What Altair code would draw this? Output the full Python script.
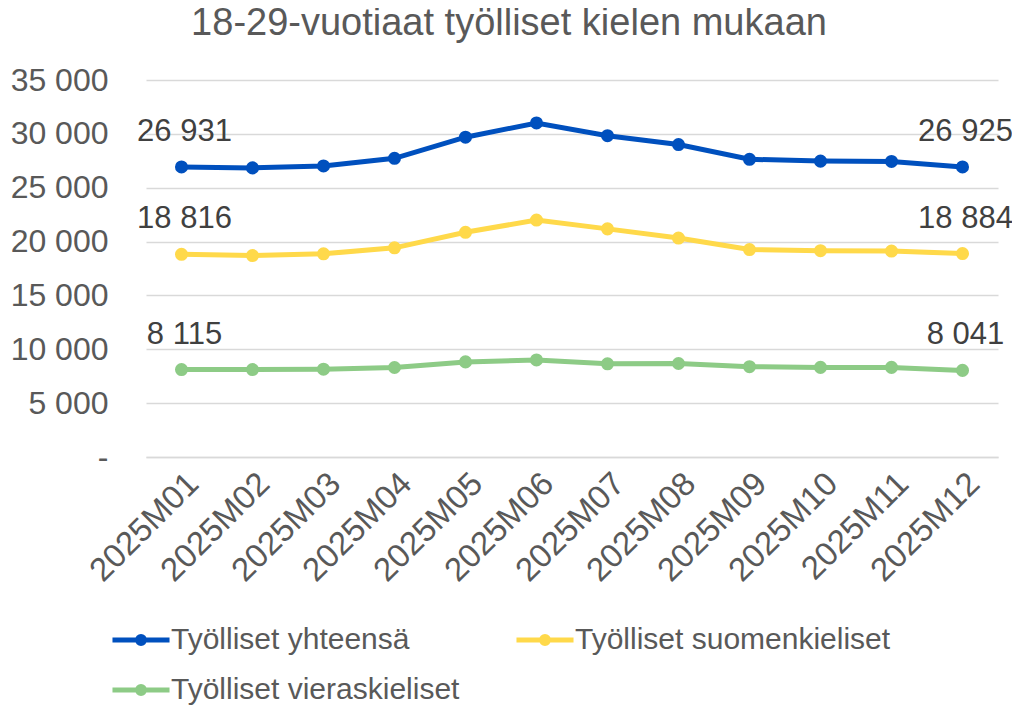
import altair as alt
import pandas as pd

months = ["2025M01", "2025M02", "2025M03", "2025M04", "2025M05", "2025M06",
          "2025M07", "2025M08", "2025M09", "2025M10", "2025M11", "2025M12"]
series_names = ["Työlliset yhteensä", "Työlliset suomenkieliset", "Työlliset vieraskieliset"]
total = [26931, 26840, 27020, 27730, 29690, 31010, 29830, 29010, 27640, 27470, 27440, 26925]
finnish = [18816, 18700, 18860, 19420, 20860, 22000, 21180, 20330, 19260, 19150, 19120, 18884]
foreign = [8115, 8120, 8150, 8310, 8830, 9010, 8650, 8680, 8380, 8320, 8320, 8041]
colors = ["#0050BE", "#FFD94A", "#8DCB86"]
y_ticks = [0, 5000, 10000, 15000, 20000, 25000, 30000, 35000]

rows = []
for name, vals in zip(series_names, [total, finnish, foreign]):
    for i, (m, v) in enumerate(zip(months, vals)):
        rows.append({"Kuukausi": m, "Sarja": name, "Arvo": v,
                     "end": i == 0 or i == len(months) - 1})
df = pd.DataFrame(rows)

FONT = "Liberation Sans"
legend_path = ("M-1.63,0H1.63 "
               "M-0.2,0a0.2,0.2 0 1,0 0.4,0a0.2,0.2 0 1,0 -0.4,0 "
               "M-0.08,0a0.08,0.08 0 1,0 0.16,0a0.08,0.08 0 1,0 -0.16,0")

x_enc = alt.X("Kuukausi:O", sort=months, title=None,
              axis=alt.Axis(labelAngle=-45, labelFontSize=33, labelFont=FONT,
                            labelColor="#595959", ticks=False, domain=True,
                            domainColor="#D9D9D9", domainWidth=1.5,
                            labelPadding=10, grid=False))
y_enc = alt.Y("Arvo:Q", title=None,
              scale=alt.Scale(domain=[0, 35000], nice=False),
              axis=alt.Axis(values=y_ticks, labelFontSize=32, labelFont=FONT,
                            labelColor="#595959", ticks=False, domain=False,
                            gridColor="#D9D9D9", gridWidth=1.5, labelPadding=38,
                            labelExpr="datum.value == 0 ? '-\u00a0\u00a0' : replace(format(datum.value, ',d'), ',', ' ')"))
color_enc = alt.Color("Sarja:N", sort=series_names,
                      scale=alt.Scale(domain=series_names, range=colors),
                      legend=alt.Legend(title=None, orient="none", legendX=-25, legendY=540,
                                        direction="horizontal",
                                        columns=2, symbolType=legend_path, symbolSize=1225,
                                        symbolStrokeWidth=5, labelFontSize=30, labelFont=FONT,
                                        labelColor="#595959", labelOffset=10,
                                        columnPadding=46, rowPadding=15, labelLimit=0))

base = alt.Chart(df)
lines = base.mark_line(strokeWidth=5, point=alt.OverlayMarkDef(filled=True, size=170)).encode(
    x=x_enc, y=y_enc, color=color_enc)
labels = base.transform_filter("datum.end").mark_text(
    fontSize=31, font=FONT, color="#404040", dy=-26, dx=3, baseline="alphabetic").encode(
    x=alt.X("Kuukausi:O", sort=months), y="Arvo:Q",
    text=alt.Text("label:N")).transform_calculate(
    label="replace(format(datum.Arvo, ',d'), ',', ' ')")

chart = alt.layer(lines, labels).properties(
    width=852, height=377,
    title=alt.TitleParams("18-29-vuotiaat työlliset kielen mukaan", fontSize=38, font=FONT,
                          fontWeight="normal", color="#595959", anchor="middle", dx=-63,
                          offset=21),
    autosize=alt.AutoSizeParams(type="none"),
    padding={"left": 138, "top": 72, "right": 14, "bottom": 252},
).configure_view(stroke=None)

chart.save("out.html", embed_options={"renderer": "svg", "actions": False})
